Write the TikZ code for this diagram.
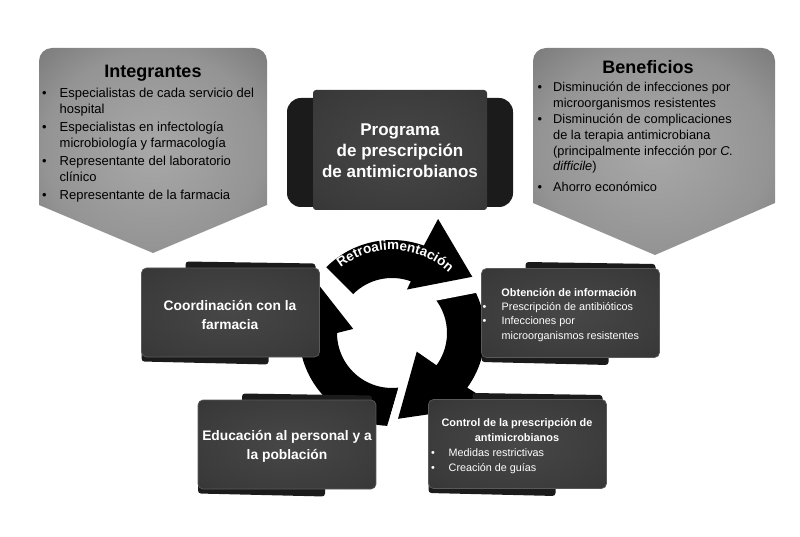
\documentclass[tikz,border=0pt]{standalone}
\usepackage{fontspec}
\setmainfont{Liberation Sans}
\usetikzlibrary{calc,decorations.text}

\definecolor{pentlight}{HTML}{A8A8A8}
\definecolor{pentmid}{HTML}{949494}
\definecolor{pentdark}{HTML}{5C5C5C}
\definecolor{boxlight}{HTML}{474747}
\definecolor{boxfill}{HTML}{3A3A3A}
\definecolor{boxdark}{HTML}{2B2B2B}
\definecolor{boxedge}{HTML}{5A5A5A}
\definecolor{boxback}{HTML}{1B1B1B}

\pgfdeclareradialshading{grayglow}{\pgfpoint{0bp}{0bp}}{color(0bp)=(pentlight); color(24bp)=(pentmid); color(50bp)=(pentdark)}
\pgfdeclareradialshading{darkglow}{\pgfpoint{0bp}{0bp}}{color(0bp)=(boxlight); color(30bp)=(boxfill); color(50bp)=(boxdark)}

% bullet of a given width, the indent that goes with it, first line height
\newcommand{\bul}[1]{\makebox[#1][l]{\textbullet}}
\newcommand{\ind}[1]{\hspace*{#1}}
\newcommand{\topln}{\rule{0pt}{1em}}

\tikzset{
  pent/.style={shading=grayglow},
  pentitle/.style={font=\bfseries\fontsize{18}{20}\selectfont, inner sep=0pt},
  pentlist/.style={anchor=north west, align=left, inner sep=0pt, font=\fontsize{13}{16}\selectfont},
  darkbox/.style={shading=darkglow, draw=boxedge, line width=0.7pt, rounded corners=5pt, minimum width=178pt, minimum height=89pt, inner sep=0pt},
  strip/.style={fill=boxback, rounded corners=3pt},
  boxtext/.style={text=white, align=center, inner sep=0pt, font=\bfseries\fontsize{13.8}{18.5}\selectfont},
  boxtitle/.style={text=white, align=center, inner sep=0pt, font=\bfseries\fontsize{10.9}{15}\selectfont},
  boxlist/.style={text=white, anchor=north west, align=left, inner sep=0pt, font=\fontsize{10.8}{14.5}\selectfont}
}

\begin{document}
\begin{tikzpicture}[x=1pt, y=-1pt]
\useasboundingbox (0,0) rectangle (800,537);

% gray arrows on top
\path[pent] (153,253) -- (39,205) -- (39,61) .. controls (39,53.8) and (44.8,48) .. (52,48)
  -- (254,48) .. controls (261.2,48) and (267,53.8) .. (267,61) -- (267,205) -- cycle;
\path[pent] (655,255) -- (533,203) -- (533,61) .. controls (533,53.8) and (538.8,48) .. (546,48)
  -- (762,48) .. controls (769.2,48) and (775,53.8) .. (775,61) -- (775,203) -- cycle;

\node[pentitle] (integ) at (153,73) {Integrantes};
\node[pentlist] (integlist) at (42,84) {\topln\bul{17.5pt}Especialistas de cada servicio del\\
  \ind{17.5pt}hospital\\[2pt]
  \bul{17.5pt}Especialistas en infectología\\
  \ind{17.5pt}microbiología y farmacología\\[2pt]
  \bul{17.5pt}Representante del laboratorio\\
  \ind{17.5pt}clínico\\[2pt]
  \bul{17.5pt}Representante de la farmacia};

\node[pentitle] (benef) at (648,67) {Beneficios};
\node[pentlist, font=\fontsize{12.8}{15.8}\selectfont] (beneflist) at (537.5,79) {\topln\bul{15.5pt}Disminución de infecciones por\\
  \ind{15.5pt}microorganismos resistentes\\
  \bul{15.5pt}Disminución de complicaciones\\
  \ind{15.5pt}de la terapia antimicrobiana\\
  \ind{15.5pt}(principalmente infección por \textit{C.}\\
  \ind{15.5pt}\textit{difficile})\\[5pt]
  \bul{15.5pt}Ahorro económico};

% cycle of three arrows
\coordinate (cyc) at (392,333);
\foreach \tout/\tin/\base/\hin/\rin/\hout/\rout/\tipa/\tipr/\gap in
  {93/83/180/186/39/172/123/217/109/2,
   -45/-45/36/37/31/35/125/86/86/16,
   -135/-135/-70/-71/46/-68/123/-35/98/33}
  {
  \draw[white, line width=\gap pt, line join=round]
   ($(cyc)+(\hin:\rin)$) -- ($(cyc)+(\hout:\rout)$) -- ($(cyc)+(\tipa:\tipr)$) -- cycle;
  \fill[black]
   ($(cyc)+(\tout:93)$) arc[start angle=\tout, end angle=\base, radius=93]
   -- ($(cyc)+(\hout:\rout)$) -- ($(cyc)+(\tipa:\tipr)$) -- ($(cyc)+(\hin:\rin)$)
   -- ($(cyc)+(\base:55)$) arc[start angle=\base, end angle=\tin, radius=55] -- cycle;
  }
\path[decorate, decoration={text along path, text align=center,
  text={|\color{white}\bfseries\fontsize{13.5}{13.5}\selectfont|Retroalimentación}}]
  ($(cyc)+(-140:83)$) arc[start angle=-140, end angle=-35, radius=83];

% central program box
\fill[boxback, rounded corners=14pt] (287,98) rectangle (513,207);
\node[shading=darkglow, rounded corners=3pt, minimum width=174pt, minimum height=120pt] (prog) at (400,150) {};
\node[text=white, align=center, inner sep=0pt, font=\bfseries\fontsize{17}{21}\selectfont] (progtext) at (400,151)
  {Programa\\de prescripción\\de antimicrobianos};

% dark boxes with their back strips
\foreach \nm/\cx/\cy in {coord/230.5/312.5, obten/570.5/313, educ/287/444.5, ctrl/517.5/444}
  {
  \fill[strip] (\cx-45,\cy-51) -- (\cx+85,\cy-49) -- (\cx+85,\cy) -- (\cx-45,\cy) -- cycle;
  \fill[strip] (\cx-89,\cy+49) -- (\cx+38,\cy+52) -- (\cx+38,\cy) -- (\cx-89,\cy) -- cycle;
  \node[darkbox] (\nm) at (\cx,\cy) {};
  }

\node[boxtext] (coordtext) at (230,315) {Coordinación con la\\farmacia};
\node[boxtext] (eductext) at (287,446.5) {Educación al personal y a\\la población};

\node[boxtitle] (obtentitle) at (569,293) {Obtención de información};
\node[boxlist] (obtenlist) at (482.5,299) {\topln\bul{19pt}Prescripción de antibióticos\\
  \bul{19pt}Infecciones por\\
  \ind{19pt}microorganismos resistentes};

\node[boxtitle] (ctrltitle) at (517,430.5) {Control de la prescripción de\\antimicrobianos};
\node[boxlist] (ctrllist) at (431,445.5) {\topln\bul{17.5pt}Medidas restrictivas\\
  \bul{17.5pt}Creación de guías};

\end{tikzpicture}
\end{document}
